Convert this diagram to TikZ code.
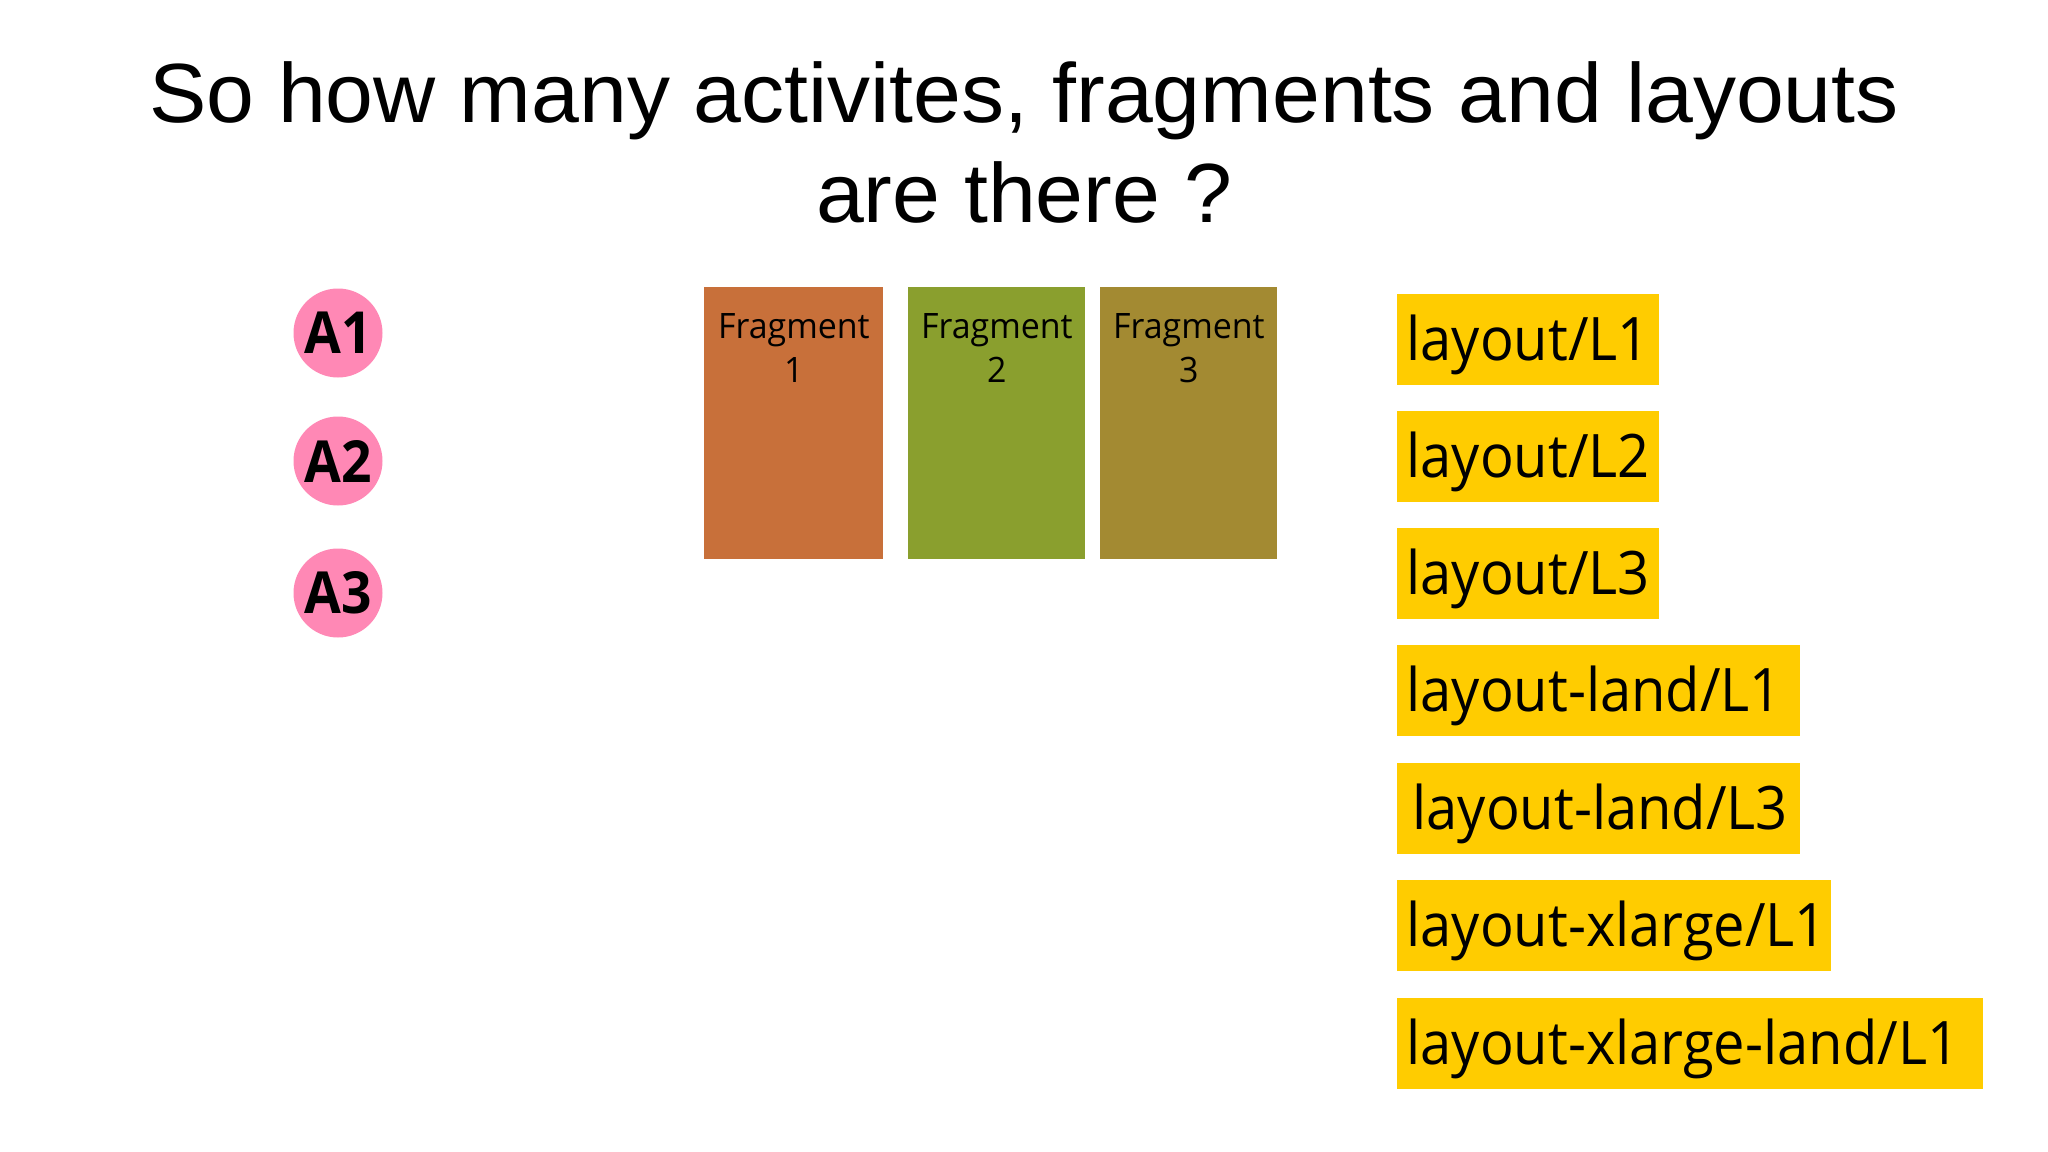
\documentclass[tikz,border=0pt]{standalone}
\usepackage{fontspec}
\setmainfont[FakeStretch=1.024]{Liberation Sans}
\newfontfamily\fragfont[FakeStretch=0.97]{Open Sans}
\newfontfamily\layfont[FakeStretch=0.934]{Open Sans}
\newfontfamily\actfont[FakeStretch=0.92]{Open Sans Bold}
\definecolor{actpink}{HTML}{FF88B5}
\definecolor{fragA}{HTML}{C8703A}
\definecolor{fragB}{HTML}{8A9F2E}
\definecolor{fragC}{HTML}{A38A32}
\definecolor{layyellow}{HTML}{FFCC00}
\tikzset{
  actc/.style={circle, fill=actpink, minimum size=44.5pt, inner sep=0pt,
    font=\actfont\fontsize{29pt}{30pt}\selectfont},
  fragbox/.style={rectangle, minimum width=88.5pt, minimum height=136pt, inner sep=0pt, anchor=north west},
  fragtxt/.style={anchor=north, align=center, inner sep=0pt,
    font=\fragfont\fontsize{17.5pt}{22pt}\selectfont},
  laybox/.style={rectangle, fill=layyellow, anchor=north west, minimum height=45.5pt,
    inner xsep=4.5pt, inner ysep=0pt, text height=33pt, text depth=12.5pt, align=left,
    font=\layfont\fontsize{30pt}{32pt}\selectfont},
  titletxt/.style={align=center, inner sep=0pt, font=\fontsize{42pt}{50pt}\selectfont}
}
\begin{document}
\begin{tikzpicture}[x=0.5pt, y=-0.5pt]
\useasboundingbox (0,0) rectangle (2048,1151);
\fill[white] (0,0) rectangle (2048,1151);
% title
\node[titletxt, anchor=base] (t1) at (1024,122) {So how many activites, fragments and layouts};
\node[titletxt, anchor=base] (t2) at (1024,222) {are there ?};
% activities
\node[actc] (a1) at (338,333) {A1};
\node[actc] (a2) at (338,461) {A2};
\node[actc] (a3) at (338,593) {A3};
% fragments
\node[fragbox, fill=fragA, minimum width=89.5pt] (f1) at (704,287) {};
\node[fragbox, fill=fragB] (f2) at (908,287) {};
\node[fragbox, fill=fragC] (f3) at (1100,287) {};
\node[fragtxt] (f1t) at ([yshift=-13pt]f1.north) {Fragment\\1};
\node[fragtxt] (f2t) at ([yshift=-13pt]f2.north) {Fragment\\2};
\node[fragtxt] (f3t) at ([yshift=-13pt]f3.north) {Fragment\\3};
% layouts
\node[laybox, text width=122pt] (l1) at (1397,294) {\mbox{layout/L1}};
\node[laybox, text width=122pt] (l2) at (1397,411) {\mbox{layout/L2}};
\node[laybox, text width=122pt] (l3) at (1397,528) {\mbox{layout/L3}};
\node[laybox, text width=192.5pt] (l4) at (1397,645) {\mbox{layout-land/L1}};
\node[laybox, text width=192.5pt] (l5) at (1397,763) {\mbox{\hspace*{3pt}layout-land/L3}};
\node[laybox, text width=208pt] (l6) at (1397,880) {\mbox{layout-xlarge/L1}};
\node[laybox, text width=284pt] (l7) at (1397,998) {\mbox{layout-xlarge-land/L1}};
\end{tikzpicture}
\end{document}
